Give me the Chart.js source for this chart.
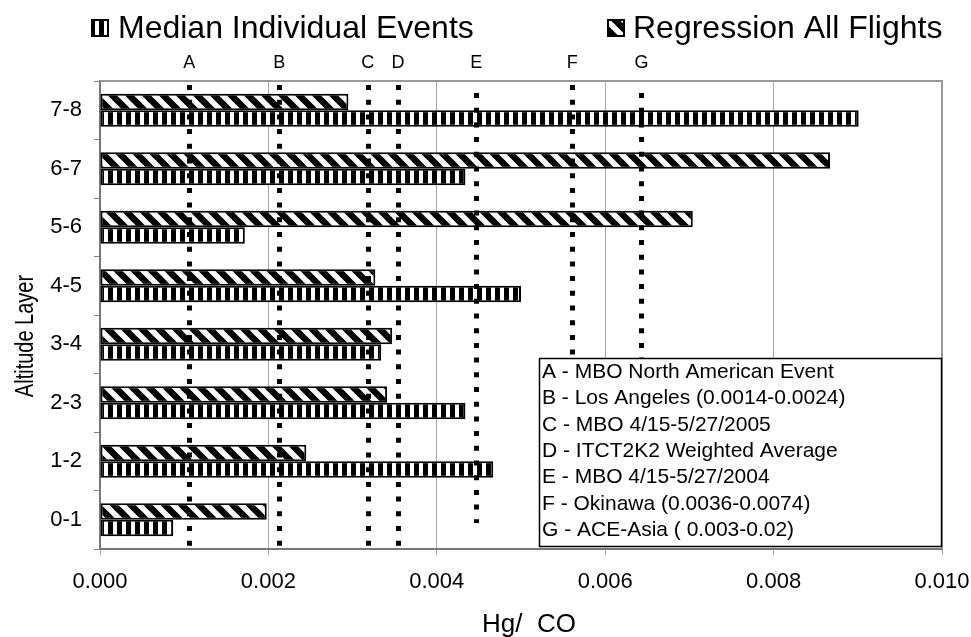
<!DOCTYPE html>
<html>
<head>
<meta charset="utf-8">
<script src="https://cdn.jsdelivr.net/npm/chart.js@4.4.1/dist/chart.umd.min.js"></script>
<style>
  html, body { margin: 0; padding: 0; background: #fff; }
</style>
</head>
<body>
<canvas id="hgChart" width="971" height="637"></canvas>
<script>
// altitude layers, top to bottom as in the figure
const layers = ['7-8', '6-7', '5-6', '4-5', '3-4', '2-3', '1-2', '0-1'];
const regressionAll = [0.00295, 0.00867, 0.00704, 0.00327, 0.00347, 0.00341, 0.00245, 0.00198];
const medianEvents = [0.00901, 0.00434, 0.00172, 0.00500, 0.00334, 0.00434, 0.00467, 0.00087];

// reference ratios drawn as dotted verticals
const refLetters = ['A', 'B', 'C', 'D', 'E', 'F', 'G'];
const refValues = [0.00106, 0.00213, 0.00318, 0.00354, 0.00447, 0.00561, 0.00643];
const refNotes = [
    'A - MBO North American Event',
    'B - Los Angeles (0.0014-0.0024)',
    'C - MBO 4/15-5/27/2005',
    'D - ITCT2K2 Weighted Average',
    'E - MBO 4/15-5/27/2004',
    'F - Okinawa (0.0036-0.0074)',
    'G - ACE-Asia ( 0.003-0.02)'
];
const xTicks = [0, 0.002, 0.004, 0.006, 0.008, 0.010];

const FONT = 'Arial, "Liberation Sans", sans-serif';

const makeTile = (w, h, paint) => {
    const c = document.createElement('canvas');
    c.width = w;
    c.height = h;
    const g = c.getContext('2d');
    g.fillStyle = '#fff';
    g.fillRect(0, 0, w, h);
    paint(g);
    return c;
};

const ctx = document.getElementById('hgChart').getContext('2d');

const stripeTile = makeTile(9, 9, g => {
    g.fillStyle = '#000';
    g.fillRect(0, 0, 5, 9);
});
const diagTile = makeTile(17, 17, g => {
    g.strokeStyle = '#000';
    g.lineWidth = 6.5;
    [-17, 0, 17].forEach(k => {
        g.beginPath();
        g.moveTo(k - 4, -4);
        g.lineTo(k + 21, 21);
        g.stroke();
    });
});
const stripeFill = ctx.createPattern(stripeTile, 'repeat');
const diagFill = ctx.createPattern(diagTile, 'repeat');

const legendBox = (g, x, y, fill) => {
    g.fillStyle = fill;
    g.fillRect(x, y, 18, 18);
    g.strokeStyle = '#000';
    g.lineWidth = 2;
    g.strokeRect(x + 1, y + 1, 16, 16);
};

const overlay = {
    id: 'overlay',
    beforeDatasetsDraw(chart) {
        const { ctx: g, chartArea: a } = chart;
        g.save();
        g.strokeStyle = '#999';
        g.lineWidth = 2;
        g.beginPath();
        g.moveTo(a.left, a.top);
        g.lineTo(a.right, a.top);
        g.lineTo(a.right, a.bottom);
        g.stroke();
        g.restore();
    },
    afterDatasetsDraw(chart) {
        const { ctx: g, chartArea: a, scales } = chart;
        g.save();

        // dotted reference lines
        g.strokeStyle = '#000';
        g.lineWidth = 5;
        g.setLineDash([5, 9.7]);
        refValues.forEach((v, i) => {
            const x = Math.round(scales.x.getPixelForValue(v)) + 0.5;
            const top = (i === 4 || i === 6) ? a.top + 12 : a.top + 4;
            const bottom = i === 4 ? a.bottom - 26 : a.bottom - 2;
            g.beginPath();
            g.moveTo(x, top);
            g.lineTo(x, bottom);
            g.stroke();
        });
        g.setLineDash([]);

        // letters above the plot
        g.fillStyle = '#000';
        g.font = '18px ' + FONT;
        g.textAlign = 'center';
        g.textBaseline = 'alphabetic';
        refValues.forEach((v, i) => {
            g.fillText(refLetters[i], scales.x.getPixelForValue(v), 68);
        });

        // note box
        const bx = 539.5, by = 358.5, bw = 402, bh = 188;
        g.fillStyle = '#fff';
        g.fillRect(bx, by, bw, bh);
        g.strokeStyle = '#000';
        g.lineWidth = 1.5;
        g.strokeRect(bx, by, bw, bh);
        g.fillStyle = '#000';
        g.font = '21px ' + FONT;
        g.textAlign = 'left';
        refNotes.forEach((t, i) => g.fillText(t, 542, 378 + i * 26.3));

        // top legend
        g.font = '32px ' + FONT;
        legendBox(g, 91, 19, stripeFill);
        g.fillStyle = '#000';
        g.fillText(chart.data.datasets[1].label, 118, 38);
        legendBox(g, 607, 19, diagFill);
        g.fillStyle = '#000';
        g.fillText(chart.data.datasets[0].label, 633, 38);

        // axis titles
        g.font = '26px ' + FONT;
        g.fillText('Hg/  CO', 482, 632);
        g.translate(33, 336);
        g.rotate(-Math.PI / 2);
        g.scale(1, 1.25);
        g.textAlign = 'center';
        g.font = '20px ' + FONT;
        g.fillText('Altitude Layer', 0, 0);
        g.restore();
    }
};

new Chart(ctx, {
    type: 'bar',
    data: {
        labels: layers,
        datasets: [{
            label: 'Regression All Flights',
            data: regressionAll,
            backgroundColor: diagFill,
            borderColor: '#000',
            borderWidth: 2,
            borderSkipped: false,
            categoryPercentage: 0.56,
            barPercentage: 1,
        }, {
            label: 'Median Individual Events',
            data: medianEvents,
            backgroundColor: stripeFill,
            borderColor: '#000',
            borderWidth: 2,
            borderSkipped: false,
            categoryPercentage: 0.56,
            barPercentage: 1,
        }]
    },
    options: {
        indexAxis: 'y',
        responsive: false,
        animation: false,
        layout: { padding: { top: 81, right: 29, left: 0, bottom: 0 } },
        scales: {
            x: {
                min: 0,
                max: 0.01,
                afterBuildTicks: s => { s.ticks = xTicks.map(v => ({ value: v })); },
                afterFit: s => {
                    s.height = 88;
                    s.paddingLeft = 0;
                    s.paddingRight = 0;
                },
                ticks: {
                    callback: v => Number(v).toFixed(3),
                    color: '#000',
                    font: { family: FONT, size: 22 },
                    padding: 14,
                    maxRotation: 0,
                },
                grid: { color: '#a6a6a6', lineWidth: 1, tickLength: 6 },
                border: { color: '#777', width: 2 },
            },
            y: {
                afterFit: s => { s.width = 100; },
                ticks: {
                    color: '#000',
                    font: { family: FONT, size: 22 },
                    padding: 12,
                },
                grid: { drawOnChartArea: false, offset: true, tickLength: 6, color: '#888' },
                border: { color: '#777', width: 2 },
            }
        },
        plugins: {
            legend: { display: false },
            tooltip: { enabled: false },
        },
    },
    plugins: [overlay]
});
</script>
</body>
</html>
